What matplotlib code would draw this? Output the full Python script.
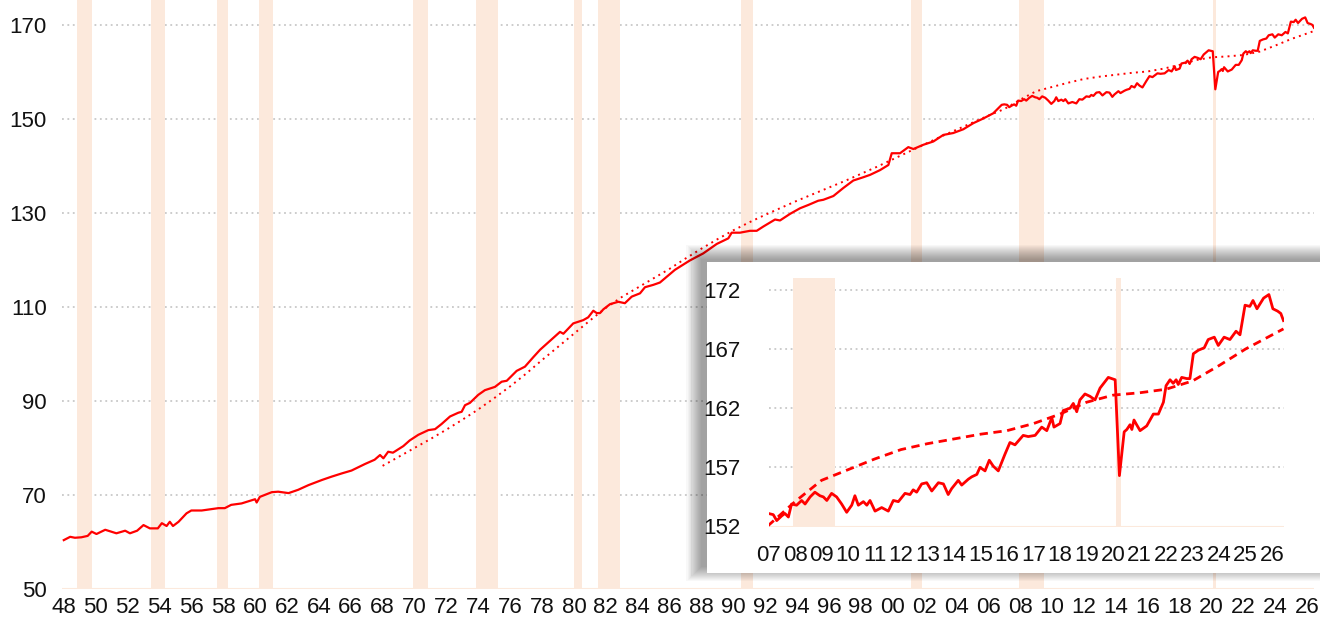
"""Labour force since 1948 with recession shading, trend and a post-2007 inset."""

import matplotlib

matplotlib.use("Agg")

import matplotlib.pyplot as plt
from matplotlib.patches import Rectangle

plt.rcParams["font.family"] = ["Liberation Sans Narrow", "Liberation Sans", "DejaVu Sans"]

# Recession periods (fractional years)
recession_starts = [1948.83, 1953.50, 1957.58, 1960.25, 1969.92, 1973.83, 1980.00, 1981.50,
                    1990.50, 2001.17, 2007.92, 2020.10]
recession_ends = [1949.79, 1954.37, 1958.29, 1961.12, 1970.87, 1975.21, 1980.54, 1982.87,
                  1991.21, 2001.87, 2009.50, 2020.30]

# Series, 1948-2006
early_years = [
    1948.0, 1948.4, 1948.7, 1949.1, 1949.5, 1949.75, 1950.05, 1950.6, 1951.3, 1951.85,
    1952.15, 1952.6, 1953.0, 1953.4, 1953.9, 1954.15, 1954.45, 1954.65, 1954.85, 1955.2,
    1955.7, 1956.0, 1956.65, 1957.3, 1957.7, 1958.1, 1958.5, 1959.15, 1960.0, 1960.1,
    1960.3, 1961.05, 1961.45, 1962.1, 1962.7, 1963.35, 1964.2, 1964.8, 1965.45, 1966.05,
    1966.9, 1967.5, 1967.84, 1968.05, 1968.35, 1968.65, 1969.3, 1969.7, 1970.24, 1970.87,
    1971.29, 1971.7, 1972.23, 1972.75, 1972.96, 1973.17, 1973.48, 1974.0, 1974.42, 1975.05,
    1975.47, 1975.79, 1976.41, 1976.93, 1977.45, 1977.88, 1978.5, 1979.13, 1979.34, 1979.96,
    1980.59, 1980.9, 1981.22, 1981.43, 1981.64, 1981.85, 1982.27, 1982.79, 1983.2, 1983.63,
    1984.15, 1984.46, 1984.98, 1985.4, 1985.82, 1986.34, 1987.28, 1988.12, 1988.96, 1989.69,
    1989.9, 1990.42, 1991.05, 1991.47, 1991.88, 1992.62, 1992.93, 1993.56, 1994.19, 1994.71,
    1995.33, 1995.65, 1996.28, 1996.9, 1997.53, 1998.16, 1998.58, 1999.2, 1999.73, 1999.94,
    2000.46, 2000.98, 2001.3, 2001.92, 2002.55, 2003.18, 2003.8, 2004.43, 2005.06, 2005.69,
    2006.31, 2006.84,
]
early_values = [
    60.4, 61.1, 60.9, 61.0, 61.3, 62.2, 61.7, 62.6, 61.85, 62.4,
    61.85, 62.4, 63.6, 62.9, 62.9, 64.0, 63.4, 64.3, 63.4, 64.3,
    66.1, 66.7, 66.7, 67.0, 67.2, 67.2, 67.9, 68.2, 69.1, 68.4,
    69.6, 70.6, 70.7, 70.4, 71.1, 72.1, 73.2, 73.9, 74.6, 75.2,
    76.6, 77.5, 78.5, 77.8, 79.2, 79.0, 80.4, 81.6, 82.8, 83.8,
    84.0, 85.1, 86.7, 87.5, 87.7, 89.1, 89.6, 91.3, 92.3, 93.0,
    94.1, 94.3, 96.4, 97.3, 99.3, 100.9, 102.8, 104.7, 104.3, 106.5,
    107.2, 107.8, 109.2, 108.7, 108.7, 109.5, 110.6, 111.1, 110.8, 112.2,
    112.9, 114.2, 114.7, 115.2, 116.4, 117.9, 119.9, 121.4, 123.4, 124.6,
    125.8, 125.8, 126.2, 126.2, 127.1, 128.6, 128.4, 129.8, 131.0, 131.7,
    132.6, 132.8, 133.6, 135.3, 136.9, 137.6, 138.1, 139.1, 140.2, 142.7,
    142.7, 144.0, 143.6, 144.5, 145.2, 146.6, 147.0, 147.8, 149.1, 150.1,
    151.2, 153.0,
]

# Series, 2007 onwards
recent_years = [
    2007.0, 2007.18, 2007.31, 2007.5, 2007.62, 2007.75, 2007.87, 2008.06, 2008.25, 2008.38,
    2008.57, 2008.75, 2008.94, 2009.07, 2009.2, 2009.38, 2009.57, 2009.76, 2009.95, 2010.14,
    2010.26, 2010.39, 2010.58, 2010.71, 2010.83, 2011.02, 2011.27, 2011.52, 2011.71, 2011.9,
    2012.15, 2012.34, 2012.46, 2012.59, 2012.78, 2012.97, 2013.16, 2013.41, 2013.6, 2013.78,
    2013.91, 2014.16, 2014.29, 2014.54, 2014.67, 2014.86, 2014.98, 2015.17, 2015.33, 2015.48,
    2015.67, 2015.92, 2016.11, 2016.3, 2016.61, 2016.8, 2017.06, 2017.31, 2017.5, 2017.69,
    2017.77, 2018.0, 2018.12, 2018.38, 2018.5, 2018.63, 2018.75, 2018.94, 2019.13, 2019.32,
    2019.51, 2019.82, 2019.95, 2020.08, 2020.24, 2020.42, 2020.52, 2020.64, 2020.71, 2020.79,
    2020.89, 2021.02, 2021.27, 2021.52, 2021.71, 2021.9, 2022.0, 2022.15, 2022.27, 2022.38,
    2022.46, 2022.59, 2022.78, 2022.9, 2023.03, 2023.22, 2023.44, 2023.59, 2023.82, 2023.97,
    2024.19, 2024.41, 2024.64, 2024.79, 2024.98, 2025.16, 2025.28, 2025.43, 2025.68, 2025.88,
    2026.03, 2026.21, 2026.33, 2026.43,
]
recent_values = [
    153.1, 153.0, 152.5, 152.9, 153.1, 152.8, 153.9, 153.8, 154.2, 153.9,
    154.5, 154.9, 154.6, 154.5, 154.2, 154.8, 154.5, 153.9, 153.2, 153.8,
    154.6, 153.8, 154.1, 153.8, 154.2, 153.3, 153.6, 153.3, 154.2, 154.1,
    154.8, 154.7, 155.1, 154.9, 155.6, 155.7, 155.0, 155.7, 155.6, 154.7,
    155.2, 155.9, 155.5, 156.0, 156.2, 156.4, 157.0, 156.7, 157.6, 157.1,
    156.7, 158.1, 159.1, 158.9, 159.7, 159.6, 159.7, 160.4, 160.1, 161.2,
    160.4, 160.7, 161.8, 162.0, 162.4, 161.7, 162.7, 163.2, 163.0, 162.7,
    163.7, 164.6, 164.5, 164.4, 156.3, 160.0, 160.2, 160.6, 160.2, 161.0,
    160.6, 160.1, 160.5, 161.5, 161.5, 162.5, 163.9, 164.4, 164.1, 164.4,
    164.0, 164.6, 164.5, 164.5, 166.6, 166.9, 167.1, 167.8, 168.0, 167.3,
    168.0, 167.8, 168.5, 168.2, 170.7, 170.6, 171.1, 170.4, 171.3, 171.6,
    170.4, 170.2, 170.0, 169.4,
]

# Long-run trend
trend_years = [
    1968, 1969, 1970, 1971, 1972, 1973, 1974, 1975, 1976, 1977, 1978, 1979, 1980, 1981,
    1982, 1983, 1984, 1985, 1986, 1987, 1988, 1989, 1990, 1991, 1992, 1993, 1994, 1995,
    1996, 1997, 1998, 1999, 2000, 2001, 2002, 2003, 2004, 2005, 2006, 2007, 2008, 2009,
    2010, 2011, 2012, 2013, 2014, 2015, 2016, 2017, 2018, 2019, 2020, 2021, 2022, 2023,
    2024, 2025, 2026.43,
]
trend_values = [
    76.2, 78.1, 80.0, 81.9, 83.9, 86.0, 88.2, 90.6, 93.1, 95.8, 98.7, 101.5, 104.3, 107.1,
    109.8, 112.1, 114.1, 116.1, 118.1, 120.3, 122.4, 124.4, 126.3, 128.0, 129.6, 131.1, 132.6, 134.0,
    135.4, 136.8, 138.3, 139.8, 141.4, 143.0, 144.6, 146.2, 147.7, 149.2, 150.7, 152.1, 154.1, 155.9,
    156.8, 157.7, 158.5, 159.0, 159.4, 159.8, 160.1, 160.7, 161.5, 162.5, 163.1, 163.3, 163.6, 164.3,
    165.6, 167.0, 168.7,
]

main_ticks = list(range(1948, 2027, 2))
main_yticks = [50, 70, 90, 110, 130, 150, 170]
inset_ticks = list(range(2007, 2027))
inset_yticks = [152, 157, 162, 167, 172]

RED = "#ff0000"
BAND = "#fce9dc"
GRID = "#c8c8c8"
INK = "#111111"

W, H = 1320, 626


def px_box(left, top, right, bottom):
    """Pixel box (origin top-left) -> figure fraction [x0, y0, w, h]."""
    return [left / W, (H - bottom) / H, (right - left) / W, (bottom - top) / H]


def style(ax, xticks, xlabels, yticks, pad_x, pad_y):
    for side in ax.spines.values():
        side.set_visible(False)
    ax.set_facecolor("none")
    ax.grid(True, axis="y", color=GRID, linestyle=(0, (1, 2)), linewidth=1.3)
    ax.set_axisbelow(True)
    ax.set_xticks(xticks, xlabels)
    ax.set_yticks(yticks)
    ax.tick_params(axis="both", length=0, labelsize=16, labelcolor=INK)
    ax.tick_params(axis="x", pad=pad_x)
    ax.tick_params(axis="y", pad=pad_y)
    for s, e in zip(recession_starts, recession_ends):
        ax.axvspan(s, e, color=BAND, lw=0, zorder=1)
    # faint peach base line, as in the source
    ax.axhline(yticks[0], color=BAND, lw=1.5, zorder=1)


fig = plt.figure(figsize=(W / 100, H / 100), dpi=100, facecolor="white")

# Main panel
ax = fig.add_axes(px_box(62.2, 0, 1314.3, 589), zorder=0)
ax.set_xlim(1947.9, 2026.45)
ax.set_ylim(50, 175.3)
style(ax, main_ticks, [f"{y % 100:02d}" for y in main_ticks], main_yticks, 6, 11)
ax.plot(early_years + recent_years, early_values + recent_values, color=RED, lw=1.6, zorder=3)
ax.plot(trend_years, trend_values, color=RED, lw=1.4, linestyle=(0, (1, 2.2)), zorder=3)

# Inset panel with a soft shadow up and to the left
px_left, px_top, px_right, px_bottom = 706.5, 262, 1330, 573
for k in range(14, -1, -1):
    x0, y0, w, h = px_box(px_left - 6 - k, px_top - 3 - k, px_right, px_bottom - 6 + k)
    fig.patches.append(Rectangle((x0, y0), w, h, transform=fig.transFigure,
                                 facecolor="black", alpha=0.028, lw=0, zorder=2))
x0, y0, w, h = px_box(px_left, px_top, px_right, px_bottom)
fig.patches.append(Rectangle((x0, y0), w, h, transform=fig.transFigure,
                             facecolor="white", lw=0, zorder=2))

inset = fig.add_axes(px_box(768.5, 278, 1284, 526.5), zorder=3)
inset.set_xlim(2007.0, 2026.45)
inset.set_ylim(152, 173)
style(inset, inset_ticks, [f"{y % 100:02d}" for y in inset_ticks], inset_yticks, 13, 20)
inset.plot(recent_years, recent_values, color=RED, lw=2.0, zorder=3)
inset.plot(trend_years, trend_values, color=RED, lw=2.0, linestyle=(0, (3, 2)), zorder=3)

fig.savefig("out.png", dpi=100, facecolor="white")
